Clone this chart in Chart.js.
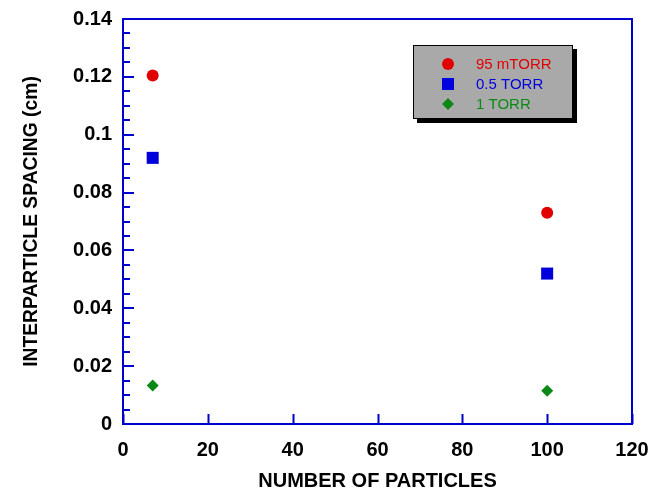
<!DOCTYPE html>
<html>
<head>
<meta charset="utf-8">
<script src="https://cdn.jsdelivr.net/npm/chart.js@4"></script>
<style>
  html, body { margin: 0; padding: 0; background: #fff; }
  #wrap { width: 658px; height: 491px; }
</style>
</head>
<body>
<div id="wrap"><canvas id="chart" width="658" height="491"></canvas></div>
<script>
// Data
const particles = [7, 100];
const spacing95mTorr = [0.1205, 0.073];
const spacing05Torr = [0.092, 0.052];
const spacing1Torr = [0.0133, 0.0115];
const seriesNames = ['95 mTORR', '0.5 TORR', '1 TORR'];
const xTicks = [0, 20, 40, 60, 80, 100, 120];
const yTicks = [0, 0.02, 0.04, 0.06, 0.08, 0.1, 0.12, 0.14];

const FRAME = '#0000cc';
const FONT = 'Arial, "Liberation Sans", Helvetica, sans-serif';

const toPoints = (ys) => particles.map((x, i) => ({ x, y: ys[i] }));

// Inward ticks + blue frame
const framePlugin = {
  id: 'frame',
  afterDatasetsDraw(chart) {
    const { ctx, chartArea: a, scales: { x, y } } = chart;
    ctx.save();
    ctx.strokeStyle = FRAME;
    ctx.lineWidth = 2;
    ctx.beginPath();
    xTicks.forEach(v => {
      const px = Math.round(x.getPixelForValue(v)) + 0.5;
      ctx.moveTo(px, a.bottom);
      ctx.lineTo(px, a.bottom - 10);
    });
    for (let v = 0; v <= 0.14 + 1e-9; v += 0.005) {
      const py = Math.round(y.getPixelForValue(v));
      const major = Math.abs(v / 0.02 - Math.round(v / 0.02)) < 1e-6;
      ctx.moveTo(a.left, py);
      ctx.lineTo(a.left + (major ? 11 : 7), py);
    }
    ctx.stroke();
    ctx.strokeRect(a.left, a.top, a.right - a.left, a.bottom - a.top);
    ctx.restore();
  }
};

// Gray legend box with drop shadow
const legendBoxPlugin = {
  id: 'legendBox',
  afterDraw(chart) {
    const { ctx } = chart;
    const bx = 413, by = 45, bw = 160, bh = 74;
    ctx.save();
    ctx.fillStyle = '#000';
    ctx.fillRect(bx + 4, by + 4, bw, bh);
    ctx.fillStyle = '#a9a9a9';
    ctx.fillRect(bx, by, bw, bh);
    ctx.strokeStyle = '#000';
    ctx.lineWidth = 1;
    ctx.strokeRect(bx + 0.5, by + 0.5, bw - 1, bh - 1);
    ctx.font = '15px ' + FONT;
    ctx.textBaseline = 'middle';
    chart.data.datasets.forEach((ds, i) => {
      const yy = 64 + i * 20;
      ctx.fillStyle = ds.backgroundColor;
      ctx.strokeStyle = ds.backgroundColor;
      Chart.helpers.drawPoint(ctx, {
        pointStyle: ds.pointStyle,
        radius: ds.pointStyle === 'rect' ? 8.5 : 6,
        borderWidth: 0,
        rotation: 0
      }, 448, yy);
      ctx.fillStyle = ds.backgroundColor;
      ctx.fillText(ds.label, 476, yy + 1);
    });
    ctx.restore();
  }
};

new Chart(document.getElementById('chart'), {
  type: 'scatter',
  data: {
    datasets: [
      { label: seriesNames[0], data: toPoints(spacing95mTorr), pointStyle: 'circle', pointRadius: 6, backgroundColor: '#e00000', borderColor: '#e00000', borderWidth: 0 },
      { label: seriesNames[1], data: toPoints(spacing05Torr), pointStyle: 'rect', pointRadius: 8.5, backgroundColor: '#0000dd', borderColor: '#0000dd', borderWidth: 0 },
      { label: seriesNames[2], data: toPoints(spacing1Torr), pointStyle: 'rectRot', pointRadius: 6, backgroundColor: '#0a8a14', borderColor: '#0a8a14', borderWidth: 0 }
    ]
  },
  options: {
    responsive: false,
    animation: false,
    layout: { padding: { top: 19, right: 26, left: 0, bottom: 0 } },
    plugins: { legend: { display: false }, tooltip: { enabled: false } },
    scales: {
      x: {
        type: 'linear', min: 0, max: 120,
        afterBuildTicks: (s) => { s.ticks = xTicks.map(v => ({ value: v })); },
        afterFit: (s) => { s.height = 67; s.paddingLeft = 0; s.paddingRight = 0; },
        grid: { display: false, drawTicks: false },
        border: { display: false },
        ticks: { color: '#000', padding: 14, font: { family: FONT, size: 20, weight: 'bold' } },
        title: { display: true, text: 'NUMBER OF PARTICLES', color: '#000', padding: 0,
                 font: { family: FONT, size: 20, weight: 'bold', lineHeight: 1 } }
      },
      y: {
        type: 'linear', min: 0, max: 0.14,
        afterBuildTicks: (s) => { s.ticks = yTicks.map(v => ({ value: v })); },
        afterFit: (s) => { s.width = 123; s.paddingTop = 0; s.paddingBottom = 0; },
        grid: { display: false, drawTicks: false },
        border: { display: false },
        ticks: { color: '#000', padding: 11, font: { family: FONT, size: 20, weight: 'bold' },
                 callback: (v) => String(Math.round(v * 100) / 100) },
        title: { display: true, text: 'INTERPARTICLE SPACING (cm)', color: '#000', padding: { top: 22.5 },
                 font: { family: FONT, size: 19.3, weight: 'bold', lineHeight: 1 } }
      }
    }
  },
  plugins: [framePlugin, legendBoxPlugin]
});
</script>
</body>
</html>
